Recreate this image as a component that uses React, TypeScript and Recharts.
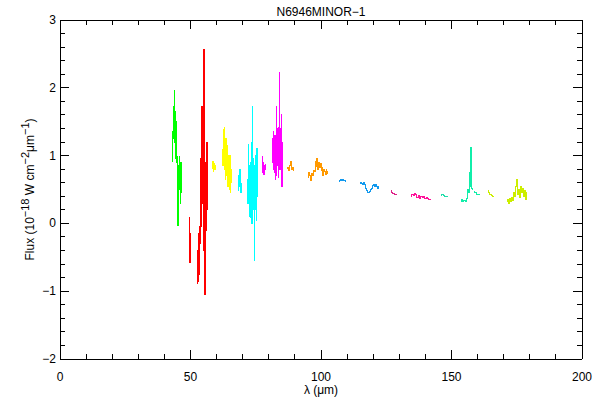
import React from "react";
import { LineChart, Line, XAxis, YAxis } from "recharts";

// wavelength (um), flux (1e-18 W cm^-2 um^-1) per detector band
const GREEN_BAND = [
  [43.0, 0.95], [43.1, 1.15], [43.2, 0.91], [43.3, 1.35], [43.4, 1.55], [43.5, 1.25],
  [43.6, 1.72], [43.7, 1.35], [43.8, 1.96], [43.9, 1.45], [44.0, 1.2], [44.1, 1.65],
  [44.2, 1.3], [44.3, 1.55], [44.4, 0.95], [44.5, 1.5], [44.6, 1.1], [44.7, 0.9],
  [44.9, 0.98], [45.1, 0.6], [45.3, -0.03], [45.45, 0.85], [45.6, 0.55], [45.75, 0.98],
  [45.9, 0.5], [46.05, 0.8], [46.2, 0.3], [46.35, 0.9], [46.5, 0.45], [46.6, 0.75],
];

const RED_BAND_A = [
  [49.4, 0.08], [49.6, -0.3], [49.8, -0.58], [50.0, -0.15], [50.2, -0.35],
];

const RED_BAND_B = [
  [52.5, -0.55], [52.65, -0.88], [52.8, -0.4], [52.95, -0.85], [53.1, -0.15], [53.25, -0.75],
  [53.4, -0.05], [53.55, -0.7], [53.7, -0.3], [53.85, 0.95], [54.0, 0.1], [54.15, 0.75],
  [54.3, -0.05], [54.45, 1.73], [54.6, 0.3], [54.75, 0.85], [54.9, -0.4], [55.05, 0.6],
  [55.2, 2.57], [55.35, 0.0], [55.5, -1.05], [55.65, 0.9], [55.8, -0.3], [55.95, 0.7],
  [56.1, -0.1], [56.25, 1.2], [56.4, 0.2], [56.55, 0.6],
];

const YELLOW_BAND_A = [
  [58.5, 0.8], [58.7, 0.92], [58.9, 0.76], [59.1, 0.88], [59.3, 0.8], [59.5, 0.85], [59.8, 0.82],
];

const YELLOW_BAND_B = [
  [62.3, 1.1], [62.45, 0.85], [62.6, 1.0], [62.75, 1.38], [62.9, 0.95], [63.05, 1.42],
  [63.2, 0.8], [63.35, 1.05], [63.5, 0.65], [63.65, 1.25], [63.8, 0.7], [63.95, 1.15],
  [64.1, 0.6], [64.25, 0.9], [64.4, 0.55], [64.55, 1.0], [64.7, 0.62], [64.85, 0.85],
  [65.0, 0.5], [65.15, 1.0], [65.3, 0.45], [65.45, 0.8], [65.6, 0.6], [65.75, 0.7],
];

const CYAN_BAND_A = [
  [68.1, 0.6], [68.3, 0.48], [68.5, 0.7], [68.7, 0.55], [68.9, 0.8], [69.1, 0.5], [69.3, 0.45], [69.5, 0.6],
];

const CYAN_BAND_B = [
  [71.9, 0.65], [72.05, 0.3], [72.2, 1.16], [72.35, 0.55], [72.5, 0.85], [72.65, 0.1],
  [72.8, 0.75], [72.95, 0.08], [73.1, 0.9], [73.25, 0.3], [73.4, 1.2], [73.55, 0.0],
  [73.7, 0.8], [73.85, 1.73], [74.0, 0.5], [74.15, 0.95], [74.3, 0.2], [74.45, 0.85],
  [74.6, -0.54], [74.75, 0.7], [74.9, 0.2], [75.05, 1.0], [75.2, 0.05], [75.35, 0.6],
  [75.5, 1.1], [75.65, 0.4], [75.8, 0.8],
];

const MAGENTA_BAND_A = [
  [77.7, 0.99], [77.85, 0.75], [78.0, 0.9], [78.15, 0.72], [78.3, 0.85], [78.5, 0.8], [78.7, 0.88],
];

const MAGENTA_BAND_B = [
  [81.2, 1.1], [81.35, 0.9], [81.5, 1.25], [81.65, 0.95], [81.8, 1.35], [81.95, 0.8],
  [82.1, 1.15], [82.25, 0.75], [82.4, 1.3], [82.55, 0.65], [82.7, 1.1], [82.85, 1.73],
  [83.0, 0.7], [83.15, 1.4], [83.3, 0.85], [83.45, 1.2], [83.6, 0.68], [83.75, 1.42],
  [83.9, 0.9], [84.05, 1.3], [84.2, 2.22], [84.35, 0.8], [84.5, 1.4], [84.65, 1.0],
  [84.8, 1.6], [84.95, 0.9], [85.1, 0.54], [85.25, 1.2], [85.4, 1.0],
];

const ORANGE_BAND_A = [
  [87.2, 0.8], [87.5, 0.82], [87.8, 0.78], [88.1, 0.86], [88.4, 0.92], [88.7, 0.85],
  [89.0, 0.8], [89.3, 0.82], [89.6, 0.78],
];

const ORANGE_BAND_B = [
  [94.9, 0.72], [95.2, 0.68], [95.5, 0.75], [95.8, 0.7], [96.1, 0.64], [96.4, 0.72],
  [96.7, 0.74], [97.0, 0.7], [97.3, 0.78], [97.6, 0.76], [97.9, 0.92], [98.2, 0.84],
  [98.5, 0.95], [98.8, 0.8], [99.1, 0.9], [99.4, 0.85], [99.7, 0.82], [100.0, 0.88],
  [100.3, 0.78], [100.6, 0.83], [100.9, 0.7], [101.2, 0.8], [101.5, 0.76], [101.8, 0.72],
  [102.1, 0.8], [102.4, 0.74], [102.7, 0.76],
];

const BLUE_BAND_A = [
  [107.0, 0.62], [107.4, 0.64], [107.8, 0.65], [108.2, 0.64], [108.6, 0.65], [109.0, 0.63], [109.4, 0.62],
];

const BLUE_BAND_B = [
  [115.0, 0.59], [115.4, 0.61], [115.8, 0.59], [116.2, 0.57], [116.6, 0.6], [117.0, 0.57],
  [117.4, 0.52], [117.8, 0.49], [118.2, 0.46], [118.6, 0.47], [119.0, 0.5], [119.4, 0.52],
  [119.8, 0.56], [120.2, 0.58], [120.6, 0.55], [121.0, 0.58], [121.4, 0.54], [121.8, 0.52], [122.2, 0.54],
];

const PLUM_BAND = [
  [126.8, 0.48], [127.3, 0.46], [127.8, 0.44], [128.3, 0.42], [128.8, 0.43], [129.3, 0.42],
];

const PINK_BAND = [
  [134.5, 0.4], [135.0, 0.42], [135.5, 0.41], [136.0, 0.44], [136.5, 0.43], [137.0, 0.38],
  [137.5, 0.41], [138.0, 0.37], [138.5, 0.4], [139.0, 0.38], [139.5, 0.39], [140.0, 0.36],
  [140.5, 0.38], [141.0, 0.36], [141.5, 0.35], [142.0, 0.35],
];

const TEAL_BAND = [
  [146.0, 0.41], [146.5, 0.43], [147.0, 0.41], [147.5, 0.4], [148.0, 0.4], [148.5, 0.4],
];

const SPRING_BAND_A = [
  [153.6, 0.33], [154.0, 0.35], [154.5, 0.33], [155.0, 0.34], [155.5, 0.33], [156.0, 0.36],
  [156.3, 0.5], [156.6, 0.45], [156.9, 0.75], [157.2, 0.55], [157.5, 1.12], [157.7, 0.9], [158.0, 0.52], [158.3, 0.5],
];

const SPRING_BAND_B = [
  [158.8, 0.47], [159.2, 0.45], [159.6, 0.42], [160.0, 0.43], [160.5, 0.42], [161.0, 0.42],
];

const LIME_BAND_A = [
  [163.9, 0.48], [164.4, 0.45], [164.9, 0.43], [165.4, 0.41], [165.9, 0.39], [166.4, 0.4],
];

const LIME_BAND_B = [
  [171.1, 0.32], [171.5, 0.35], [171.9, 0.3], [172.3, 0.36], [172.7, 0.33], [173.1, 0.38],
  [173.5, 0.34], [173.9, 0.45], [174.3, 0.4], [174.7, 0.55], [175.0, 0.65], [175.3, 0.42],
  [175.7, 0.5], [176.1, 0.38], [176.5, 0.55], [176.9, 0.45], [177.3, 0.52], [177.7, 0.4],
  [178.1, 0.48], [178.5, 0.35], [178.8, 0.45],
];

const X_TICKS = [0, 10, 20, 30, 40, 50, 60, 70, 80, 90, 100, 110, 120, 130, 140, 150, 160, 170, 180, 190, 200];
const Y_TICKS = [
  -2, -1.8, -1.6, -1.4, -1.2, -1, -0.8, -0.6, -0.4, -0.2, 0, 0.2, 0.4, 0.6, 0.8,
  1, 1.2, 1.4, 1.6, 1.8, 2, 2.2, 2.4, 2.6, 2.8, 3,
];

const BANDS: [number[][], string][] = [
  [GREEN_BAND, "#00ff00"],
  [RED_BAND_A, "#ff0000"],
  [RED_BAND_B, "#ff0000"],
  [YELLOW_BAND_A, "#ffff00"],
  [YELLOW_BAND_B, "#ffff00"],
  [CYAN_BAND_A, "#00ffff"],
  [CYAN_BAND_B, "#00ffff"],
  [MAGENTA_BAND_A, "#ff00ff"],
  [MAGENTA_BAND_B, "#ff00ff"],
  [ORANGE_BAND_A, "#ff9900"],
  [ORANGE_BAND_B, "#ff9900"],
  [BLUE_BAND_A, "#1199ee"],
  [BLUE_BAND_B, "#1199ee"],
  [PLUM_BAND, "#dd2288"],
  [PINK_BAND, "#ff1199"],
  [TEAL_BAND, "#22ddaa"],
  [SPRING_BAND_A, "#11eeaa"],
  [SPRING_BAND_B, "#11eeaa"],
  [LIME_BAND_A, "#ccee00"],
  [LIME_BAND_B, "#ccee00"],
];

// invisible anchor so the mirrored top/right axes have a series bound to them
const FRAME = [{ x: 0, y: -2 }, { x: 200, y: 3 }];

const FONT = "'Liberation Sans', Arial, sans-serif";
const MAJOR = 9;
const MINOR = 5;

const fmt = (v: number) => (v < 0 ? "\u2212" + Math.abs(v) : String(v));
const isInt = (v: number) => Math.abs(v - Math.round(v)) < 1e-6;

function XTick({ x, y, payload, top }: any) {
  const major = payload.value % 50 === 0;
  const len = major ? MAJOR : MINOR;
  return (
    <g>
      <line x1={x} x2={x} y1={y} y2={top ? y + len : y - len} stroke="#000" shapeRendering="crispEdges" />
      {!top && major && (
        <text x={x} y={y + 22} textAnchor="middle" fontSize={12} fontFamily={FONT} fill="#000">
          {payload.value}
        </text>
      )}
    </g>
  );
}

function YTick({ x, y, payload, right }: any) {
  const major = isInt(payload.value);
  const len = major ? MAJOR : MINOR;
  return (
    <g>
      <line x1={x} x2={right ? x - len : x + len} y1={y} y2={y} stroke="#000" shapeRendering="crispEdges" />
      {!right && major && (
        <text x={x - 4} y={y + 4} textAnchor="end" fontSize={12} fontFamily={FONT} fill="#000">
          {fmt(Math.round(payload.value))}
        </text>
      )}
    </g>
  );
}

export default function App() {
  return (
    <div style={{ position: "absolute", left: 0, top: 0, width: 600, height: 400, background: "#fff" }}>
      <LineChart width={600} height={400} margin={{ top: 19, right: 17, bottom: 0, left: 0 }}>
        <XAxis
          xAxisId="b"
          type="number"
          dataKey="x"
          domain={[0, 200]}
          ticks={X_TICKS}
          interval={0}
          height={41}
          tickSize={0}
          tickMargin={0}
          tickLine={false}
          axisLine={{ stroke: "#000", shapeRendering: "crispEdges" }}
          tick={<XTick />}
          label={{
            content: ({ viewBox }: any) => (
              <text x={viewBox.x + viewBox.width / 2} y={viewBox.y + 35} textAnchor="middle" fontSize={12} fontFamily={FONT} fill="#000">
                λ (μm)
              </text>
            ),
          }}
        />
        <XAxis
          xAxisId="t"
          orientation="top"
          type="number"
          dataKey="x"
          domain={[0, 200]}
          ticks={X_TICKS}
          interval={0}
          height={1}
          tickSize={0}
          tickMargin={0}
          tickLine={false}
          axisLine={{ stroke: "#000", shapeRendering: "crispEdges" }}
          tick={<XTick top />}
          label={{
            content: ({ viewBox }: any) => (
              <text x={viewBox.x + viewBox.width / 2} y={16} textAnchor="middle" fontSize={12} fontFamily={FONT} fill="#000">
                N6946MINOR−1
              </text>
            ),
          }}
        />
        <YAxis
          yAxisId="l"
          type="number"
          domain={[-2, 3]}
          ticks={Y_TICKS}
          interval={0}
          width={60}
          tickSize={0}
          tickMargin={0}
          tickLine={false}
          axisLine={{ stroke: "#000", shapeRendering: "crispEdges" }}
          tick={<YTick />}
          label={{
            content: ({ viewBox }: any) => {
              const cx = 34;
              const cy = viewBox.y + viewBox.height / 2;
              return (
                <text x={cx} y={cy} transform={`rotate(-90, ${cx}, ${cy})`} textAnchor="middle" fontSize={12} fontFamily={FONT} fill="#000">
                  Flux (10
                  <tspan dy={-5} fontSize={11}>−18</tspan>
                  <tspan dy={5}> W cm</tspan>
                  <tspan dy={-5} fontSize={11}>−2</tspan>
                  <tspan dy={5}>μm</tspan>
                  <tspan dy={-5} fontSize={11}>−1</tspan>
                  <tspan dy={5}>)</tspan>
                </text>
              );
            },
          }}
        />
        <YAxis
          yAxisId="r"
          orientation="right"
          type="number"
          domain={[-2, 3]}
          ticks={Y_TICKS}
          interval={0}
          width={1}
          tickSize={0}
          tickMargin={0}
          tickLine={false}
          axisLine={{ stroke: "#000", shapeRendering: "crispEdges" }}
          tick={<YTick right />}
        />
        <Line
          xAxisId="t"
          yAxisId="r"
          data={FRAME}
          dataKey="y"
          stroke="none"
          dot={false}
          activeDot={false}
          isAnimationActive={false}
        />
        {BANDS.map(([pts, color], i) => (
          <Line
            key={i}
            xAxisId="b"
            yAxisId="l"
            data={pts.map(([x, y]) => ({ x, y }))}
            dataKey="y"
            type="step"
            stroke={color}
            strokeWidth={1}
            shapeRendering="crispEdges"
            dot={false}
            activeDot={false}
            isAnimationActive={false}
          />
        ))}
      </LineChart>
    </div>
  );
}
